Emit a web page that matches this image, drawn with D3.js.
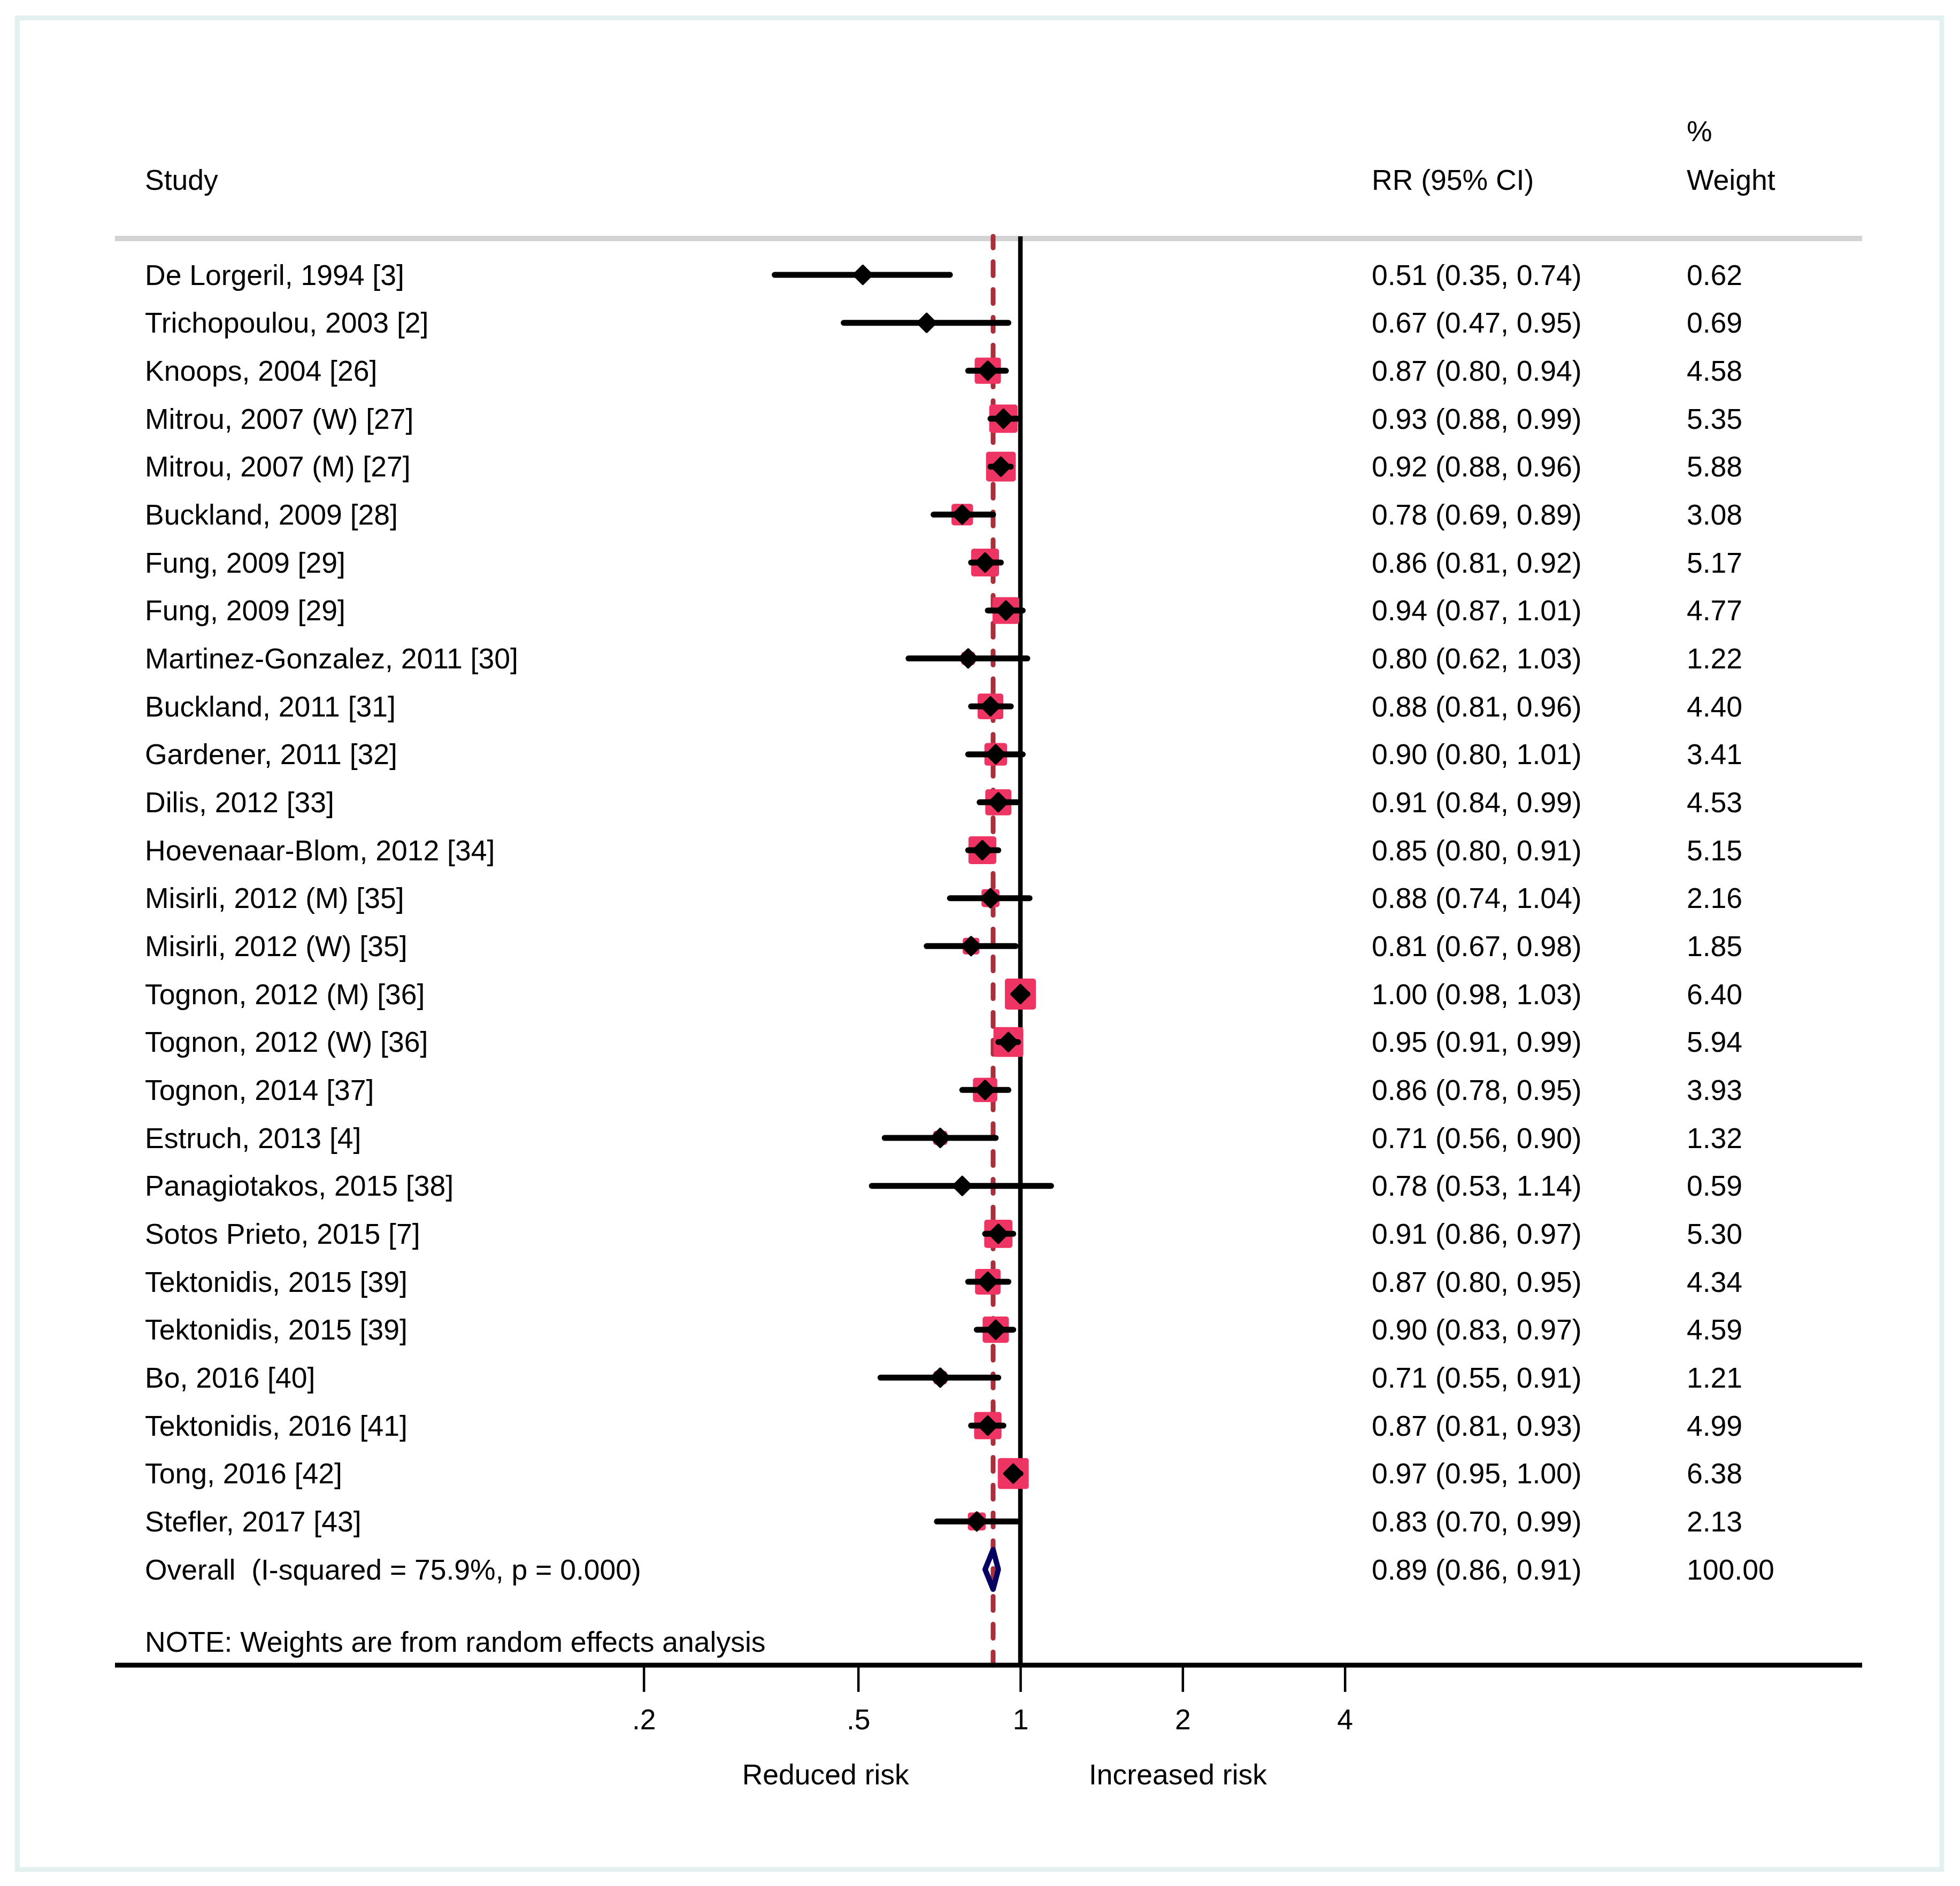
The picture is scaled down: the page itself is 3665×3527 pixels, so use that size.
<!DOCTYPE html>
<html>
<head>
<meta charset="utf-8">
<script src="https://cdn.jsdelivr.net/npm/d3@7.9.0/dist/d3.min.js"></script>
<style>
  body { margin: 0; background: #fff; }
  svg text { font-family: "Liberation Sans", Arial, sans-serif; fill: #000; }
</style>
</head>
<body>
<div id="chart"></div>
<script>
const studies = [
  'De Lorgeril, 1994 [3]', 'Trichopoulou, 2003 [2]', 'Knoops, 2004 [26]',
  'Mitrou, 2007 (W) [27]', 'Mitrou, 2007 (M) [27]', 'Buckland, 2009 [28]',
  'Fung, 2009 [29]', 'Fung, 2009 [29]', 'Martinez-Gonzalez, 2011 [30]',
  'Buckland, 2011 [31]', 'Gardener, 2011 [32]', 'Dilis, 2012 [33]',
  'Hoevenaar-Blom, 2012 [34]', 'Misirli, 2012 (M) [35]', 'Misirli, 2012 (W) [35]',
  'Tognon, 2012 (M) [36]', 'Tognon, 2012 (W) [36]', 'Tognon, 2014 [37]',
  'Estruch, 2013 [4]', 'Panagiotakos, 2015 [38]', 'Sotos Prieto, 2015 [7]',
  'Tektonidis, 2015 [39]', 'Tektonidis, 2015 [39]', 'Bo, 2016 [40]',
  'Tektonidis, 2016 [41]', 'Tong, 2016 [42]', 'Stefler, 2017 [43]'
];
const rr = [0.51, 0.67, 0.87, 0.93, 0.92, 0.78, 0.86, 0.94, 0.80, 0.88, 0.90, 0.91, 0.85, 0.88,
  0.81, 1.00, 0.95, 0.86, 0.71, 0.78, 0.91, 0.87, 0.90, 0.71, 0.87, 0.97, 0.83];
const lower = [0.35, 0.47, 0.80, 0.88, 0.88, 0.69, 0.81, 0.87, 0.62, 0.81, 0.80, 0.84, 0.80, 0.74,
  0.67, 0.98, 0.91, 0.78, 0.56, 0.53, 0.86, 0.80, 0.83, 0.55, 0.81, 0.95, 0.70];
const upper = [0.74, 0.95, 0.94, 0.99, 0.96, 0.89, 0.92, 1.01, 1.03, 0.96, 1.01, 0.99, 0.91, 1.04,
  0.98, 1.03, 0.99, 0.95, 0.90, 1.14, 0.97, 0.95, 0.97, 0.91, 0.93, 1.00, 0.99];
const weights = [0.62, 0.69, 4.58, 5.35, 5.88, 3.08, 5.17, 4.77, 1.22, 4.40, 3.41, 4.53, 5.15, 2.16,
  1.85, 6.40, 5.94, 3.93, 1.32, 0.59, 5.30, 4.34, 4.59, 1.21, 4.99, 6.38, 2.13];

const overall = { label: 'Overall  (I-squared = 75.9%, p = 0.000)', rr: 0.89, lo: 0.86, hi: 0.91, weight: '100.00' };
const note = 'NOTE: Weights are from random effects analysis';

const tickValues = [0.2, 0.5, 1, 2, 4];
const tickLabels = ['.2', '.5', '1', '2', '4'];
const sideLabels = [['Reduced risk', 0.435], ['Increased risk', 1.96]];

const width = 3665;
const height = 3527;
const fs = 53.5;
const colStudy = 271;
const colRR = 2565;
const colW = 3154;
const left = 215;
const right = 3482;

const rows = studies.map((name, i) => ({
  name, rr: rr[i], lo: lower[i], hi: upper[i], w: weights[i]
}));

const fmt = d3.format('.2f');

const svg = d3.select('#chart').append('svg')
  .attr('width', width)
  .attr('height', height);

// frame
svg.append('rect')
  .attr('x', 32.5).attr('y', 33.5)
  .attr('width', 3598.5).attr('height', 3462.5)
  .attr('fill', 'none')
  .attr('stroke', '#e4eff0')
  .attr('stroke-width', 9);

const x = d3.scaleLog().domain([0.2, 4]).range([1203.7, 2514.7]);
const y = d3.scaleLinear().domain([0, 27]).range([514, 2935]);
const boxSide = d3.scaleSqrt().domain([0, 6.4]).range([0, 58]);

const topY = 442;
const axisY = 3114;

// headers
const head = svg.append('g').attr('font-size', fs);
head.append('text').attr('x', colStudy).attr('y', 336).attr('dy', '0.35em').text('Study');
head.append('text').attr('x', colRR).attr('y', 336).attr('dy', '0.35em').text('RR (95% CI)');
head.append('text').attr('x', colW).attr('y', 245).attr('dy', '0.35em').text('%');
head.append('text').attr('x', colW).attr('y', 336).attr('dy', '0.35em').text('Weight');

svg.append('line')
  .attr('x1', left).attr('x2', right)
  .attr('y1', 446).attr('y2', 446)
  .attr('stroke', '#d3d3d3')
  .attr('stroke-width', 10);

// reference lines
svg.append('line')
  .attr('x1', x(1)).attr('x2', x(1))
  .attr('y1', topY).attr('y2', axisY)
  .attr('stroke', '#000')
  .attr('stroke-width', 8.5);

svg.append('line')
  .attr('x1', x(overall.rr)).attr('x2', x(overall.rr))
  .attr('y1', topY).attr('y2', axisY)
  .attr('stroke', '#a8303c')
  .attr('stroke-width', 9)
  .attr('stroke-linecap', 'round')
  .attr('stroke-dasharray', '26,26')
  .attr('stroke-dashoffset', 4.5);

// study markers
const marks = svg.append('g');

marks.selectAll('rect')
  .data(rows)
  .join('rect')
  .attr('x', d => x(d.rr) - boxSide(d.w) / 2)
  .attr('y', (d, i) => y(i) - boxSide(d.w) / 2)
  .attr('width', d => boxSide(d.w))
  .attr('height', d => boxSide(d.w))
  .attr('rx', 5)
  .attr('fill', '#ee3462');

marks.selectAll('line')
  .data(rows)
  .join('line')
  .attr('x1', d => x(d.lo))
  .attr('x2', d => x(d.hi))
  .attr('y1', (d, i) => y(i))
  .attr('y2', (d, i) => y(i))
  .attr('stroke', '#000')
  .attr('stroke-width', 11)
  .attr('stroke-linecap', 'round');

const dm = 16.5;
marks.selectAll('path')
  .data(rows)
  .join('path')
  .attr('d', (d, i) => {
    const cx = x(d.rr), cy = y(i);
    return `M${cx},${cy - dm}L${cx + dm},${cy}L${cx},${cy + dm}L${cx - dm},${cy}Z`;
  })
  .attr('fill', '#000')
  .attr('stroke', '#000')
  .attr('stroke-width', 5)
  .attr('stroke-linejoin', 'round');

// pooled estimate
const oy = y(rows.length);
svg.append('path')
  .attr('d', `M${x(overall.lo)},${oy}L${x(overall.rr)},${oy - 37}L${x(overall.hi)},${oy}L${x(overall.rr)},${oy + 37}Z`)
  .attr('fill', 'none')
  .attr('stroke', '#060060')
  .attr('stroke-width', 10)
  .attr('stroke-linejoin', 'round');

// text columns
const txt = svg.append('g').attr('font-size', fs);

txt.selectAll('text.name')
  .data(rows)
  .join('text')
  .attr('class', 'name')
  .attr('x', colStudy)
  .attr('y', (d, i) => y(i))
  .attr('dy', '0.35em')
  .text(d => d.name);

txt.selectAll('text.ci')
  .data(rows)
  .join('text')
  .attr('class', 'ci')
  .attr('x', colRR)
  .attr('y', (d, i) => y(i))
  .attr('dy', '0.35em')
  .text(d => `${fmt(d.rr)} (${fmt(d.lo)}, ${fmt(d.hi)})`);

txt.selectAll('text.wt')
  .data(rows)
  .join('text')
  .attr('class', 'wt')
  .attr('x', colW)
  .attr('y', (d, i) => y(i))
  .attr('dy', '0.35em')
  .text(d => fmt(d.w));

txt.append('text').attr('x', colStudy).attr('y', oy).attr('dy', '0.35em')
  .attr('xml:space', 'preserve').style('white-space', 'pre')
  .text(overall.label);
txt.append('text').attr('x', colRR).attr('y', oy).attr('dy', '0.35em')
  .text(`${fmt(overall.rr)} (${fmt(overall.lo)}, ${fmt(overall.hi)})`);
txt.append('text').attr('x', colW).attr('y', oy).attr('dy', '0.35em')
  .text(overall.weight);

txt.append('text').attr('x', colStudy).attr('y', 3070).attr('dy', '0.35em').text(note);

// x axis
svg.append('line')
  .attr('x1', left).attr('x2', right)
  .attr('y1', axisY).attr('y2', axisY)
  .attr('stroke', '#000')
  .attr('stroke-width', 9);

const axis = svg.append('g')
  .attr('transform', `translate(0, ${axisY})`)
  .call(d3.axisBottom(x)
    .tickValues(tickValues)
    .tickFormat((d, i) => tickLabels[i])
    .tickSize(50)
    .tickPadding(32));

axis.select('.domain').remove();
axis.selectAll('.tick line').attr('stroke', '#000').attr('stroke-width', 4.5);
axis.selectAll('.tick text')
  .attr('font-size', fs)
  .attr('font-family', '"Liberation Sans", Arial, sans-serif')
  .attr('fill', '#000');

svg.append('g').attr('font-size', fs)
  .selectAll('text')
  .data(sideLabels)
  .join('text')
  .attr('x', d => x(d[1]))
  .attr('y', 3318)
  .attr('dy', '0.35em')
  .attr('text-anchor', 'middle')
  .text(d => d[0]);
</script>
</body>
</html>
